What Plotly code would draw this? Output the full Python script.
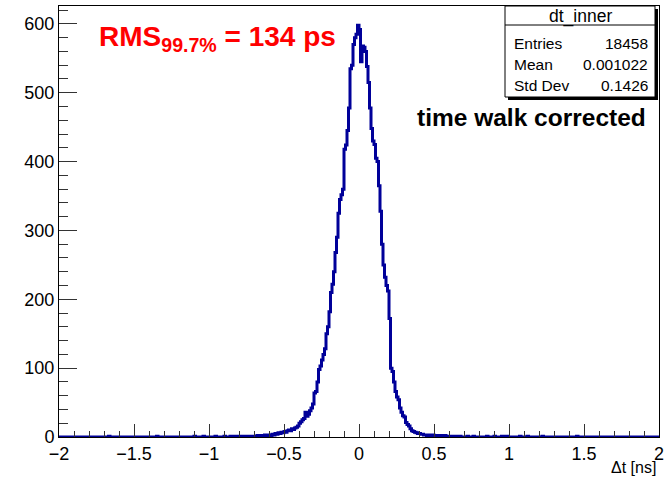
import plotly.graph_objects as go

# ---- data: histogram dt_inner, 400 bins of 0.01 ns from -2 to 2 ----
x_min = -2.0
bin_width = 0.01

tail_left = [
    0, 0, 0, 0, 0, 0, 0, 0, 0, 0, 0, 0, 0, 0, 0, 0, 0, 0, 0, 0,   # -2.00 .. -1.81
    0, 0, 0, 0, 0, 0, 0, 0, 0, 0, 0, 0, 0, 1, 0, 0, 0, 0, 0, 0,   # -1.80 .. -1.61
    0, 0, 0, 0, 0, 0, 0, 0, 0, 0, 0, 0, 0, 0, 0, 0, 0, 0, 0, 0,   # -1.60 .. -1.41
    0, 0, 0, 0, 0, 1, 0, 0, 0, 0, 0, 0, 0, 0, 0, 0, 0, 0, 0, 0,   # -1.40 .. -1.21
    0, 0, 0, 0, 0, 0, 0, 0, 0, 0, 1, 0, 0, 0, 0, 0, 1, 0, 0, 0,   # -1.20 .. -1.01
    0, 0, 0, 0, 1, 0, 0, 0, 0, 0, 1, 0, 0, 0, 1, 0, 0, 1, 0, 1,   # -1.00 .. -0.81
]
core = [
    0, 1, 0, 1, 0, 0, 1, 1, 0, 1,                      # -0.80
    1, 0, 2, 1, 1, 2, 1, 3, 2, 2,                      # -0.70
    3, 2, 4, 3, 5, 4, 6, 5, 7, 6,                      # -0.60
    8, 7, 9, 10, 9, 12, 11, 13, 14, 16,                # -0.50
    20, 22, 25, 27, 36, 30, 33, 38, 42, 48,            # -0.40
    64, 66, 80, 98, 103, 112, 120, 128, 150, 160,      # -0.30
    182, 210, 222, 240, 268, 290, 325, 345, 352, 360,  # -0.20
    418, 424, 445, 478, 535, 540, 570, 580, 585, 598,  # -0.10
    592, 545, 568, 566, 560, 538, 515, 478, 448, 430,  #  0.00
    425, 405, 400, 365, 328, 280, 250, 232, 220, 212,  #  0.10
    172, 100, 95, 80, 66, 58, 54, 42, 36, 31,          #  0.20
    29, 21, 18, 16, 12, 9, 8, 7, 6, 5,                 #  0.30
    5, 4, 4, 3, 3, 2, 3, 2, 2, 3,                      #  0.40
    1, 2, 1, 1, 2, 1, 0, 2, 1, 1,                      #  0.50
    1, 0, 1, 1, 0, 1, 0, 1, 0, 0,                      #  0.60
]
tail_right = [
    0, 0, 1, 0, 0, 0, 1, 0, 0, 0, 0, 0, 0, 0, 0, 1, 0, 0, 0, 0,   # 0.70 .. 0.89
    1, 0, 0, 0, 0, 1, 0, 0, 1, 0, 0, 0, 0, 0, 0, 0, 0, 1, 0, 0,   # 0.90 .. 1.09
    0, 0, 1, 0, 0, 0, 0, 0, 0, 0, 0, 0, 1, 0, 0, 0, 0, 0, 0, 0,   # 1.10 .. 1.29
    0, 0, 0, 0, 0, 0, 0, 0, 0, 0, 0, 0, 0, 0, 0, 1, 0, 0, 0, 0,   # 1.30 .. 1.49
    0, 0, 0, 0, 0, 0, 0, 0, 0, 0, 0, 0, 0, 0, 0, 0, 0, 0, 0, 0,   # 1.50 .. 1.69
    0, 0, 0, 0, 0, 0, 0, 0, 0, 0, 0, 0, 0, 0, 0, 0, 0, 0, 0, 0,   # 1.70 .. 1.89
    0, 0, 0, 0, 0, 0, 0, 0, 0, 0,                                 # 1.90 .. 1.99
]
counts = tail_left + core + tail_right

x_tick_vals = [-2, -1.5, -1, -0.5, 0, 0.5, 1, 1.5, 2]
x_tick_text = ["\u22122", "\u22121.5", "\u22121", "\u22120.5", "0", "0.5", "1", "1.5", "2"]
y_tick_vals = [0, 100, 200, 300, 400, 500, 600]

stats_title = "dt_inner"
stats_labels = ["Entries", "Mean", "Std Dev"]
stats_values = ["18458", "0.001022", "0.1426"]

# ---- build step outline ----
edges = [round(x_min + i * bin_width, 4) for i in range(len(counts) + 1)]
xs = edges
ys = counts + [counts[-1]]

FONT = "Liberation Sans, Arial, Helvetica, sans-serif"

fig = go.Figure()
fig.add_trace(go.Scatter(
    x=xs, y=ys, mode="lines", line=dict(shape="hv", color="#000099", width=3),
    hoverinfo="skip", showlegend=False,
))

fig.update_layout(
    width=669, height=478,
    margin=dict(l=59, r=10, t=6, b=41),
    paper_bgcolor="white", plot_bgcolor="white",
    font=dict(family=FONT, color="black"),
    showlegend=False,
)
fig.update_xaxes(
    range=[-2, 2], showgrid=False, zeroline=False,
    showline=True, linecolor="black", linewidth=1, mirror=True,
    ticks="inside", ticklen=13, tickcolor="#333", tickwidth=1,
    tickvals=x_tick_vals, ticktext=x_tick_text,
    tickfont=dict(size=18, family=FONT, color="black"),
    minor=dict(ticks="inside", dtick=0.1, ticklen=6, tickcolor="#333", tickwidth=1, showgrid=False),
)
fig.update_yaxes(
    range=[0, 626], showgrid=False, zeroline=False,
    showline=True, linecolor="black", linewidth=1, mirror=True,
    ticks="inside", ticklen=18, tickcolor="#333", tickwidth=1,
    tickvals=y_tick_vals,
    tickfont=dict(size=18, family=FONT, color="black"),
    minor=dict(ticks="inside", dtick=20, ticklen=9, tickcolor="#333", tickwidth=1, showgrid=False),
)

# ---- stats box ----
def px_x(p):
    return (p - 59) / 600.0

def px_y(p):
    return (437 - p) / 431.0

bx0, bx1, by0, by1 = px_x(505), px_x(655), px_y(97), px_y(6)
# shadow
fig.add_shape(type="rect", xref="paper", yref="paper",
              x0=bx0 + 3 / 600, x1=bx1 + 3 / 600, y0=by0 - 3 / 431, y1=by1 - 3 / 431,
              line=dict(width=0), fillcolor="black", layer="above")
fig.add_shape(type="rect", xref="paper", yref="paper",
              x0=bx0, x1=bx1, y0=by0, y1=by1,
              line=dict(color="black", width=1), fillcolor="white", layer="above")
fig.add_shape(type="line", xref="paper", yref="paper",
              x0=bx0, x1=bx1, y0=px_y(25), y1=px_y(25),
              line=dict(color="black", width=1), layer="above")
fig.add_annotation(xref="paper", yref="paper", x=(bx0 + bx1) / 2, y=px_y(16),
                   text=stats_title, showarrow=False, xanchor="center", yanchor="middle",
                   font=dict(size=17.5, family=FONT, color="black"))
for i, (lab, val) in enumerate(zip(stats_labels, stats_values)):
    yy = px_y(43 + 21 * i)
    fig.add_annotation(xref="paper", yref="paper", x=px_x(512), y=yy, text=lab,
                       showarrow=False, xanchor="left", yanchor="middle",
                       font=dict(size=15.5, family=FONT, color="black"))
    fig.add_annotation(xref="paper", yref="paper", x=px_x(650), y=yy, text=val,
                       showarrow=False, xanchor="right", yanchor="middle",
                       font=dict(size=15.5, family=FONT, color="black"))

# ---- text labels ----
fig.add_annotation(xref="paper", yref="paper", x=px_x(97), y=px_y(39),
                   text="<b>RMS<sub>99.7%</sub> = 134 ps</b>", showarrow=False,
                   xanchor="left", yanchor="middle",
                   font=dict(size=28, family=FONT, color="#ff0000"))
fig.add_annotation(xref="paper", yref="paper", x=px_x(415), y=px_y(117),
                   text="<b>time walk corrected</b>", showarrow=False,
                   xanchor="left", yanchor="middle",
                   font=dict(size=24.5, family=FONT, color="black"))
fig.add_annotation(xref="paper", yref="paper", x=px_x(658), y=px_y(467),
                   text="\u0394t [ns]", showarrow=False,
                   xanchor="right", yanchor="middle",
                   font=dict(size=16, family=FONT, color="black"))

fig.write_html("out.html")
